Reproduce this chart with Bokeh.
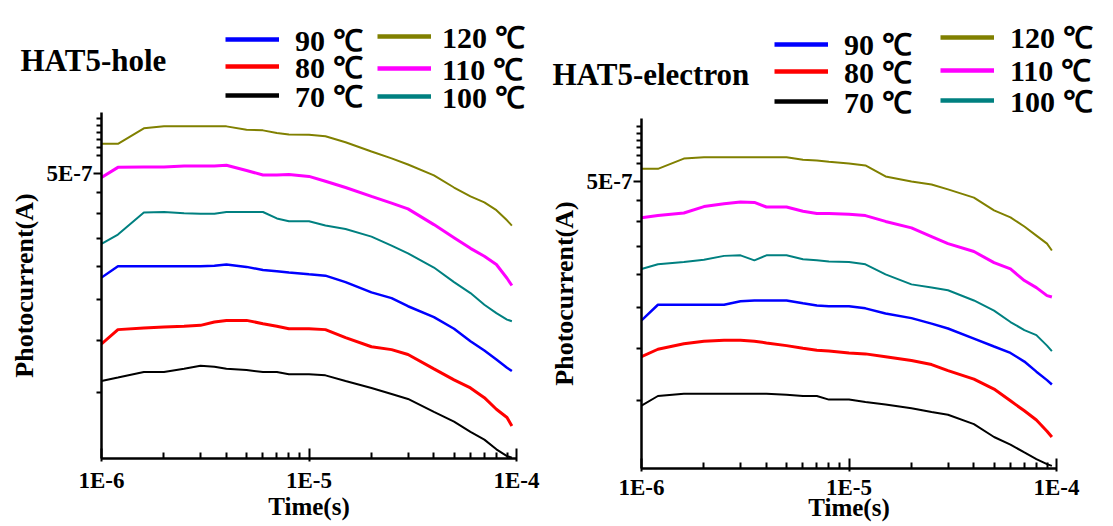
from bokeh.plotting import figure
from bokeh.layouts import row, column
from bokeh.models import (FixedTicker, CustomJSTickFormatter, Legend, LegendItem,
                          Label, Range1d)
from bokeh.embed import file_html
from bokeh.resources import INLINE

# ---------------- data ----------------
# time in microseconds (shared grid)
time_us = [1.0, 1.2, 1.6, 2.0, 2.5, 3.0, 3.5, 4.0, 5.0, 6.0, 7.0, 8.0, 10, 12, 15,
           20, 25, 30, 40, 50, 60, 70, 80, 90, 95]
temp_labels = ["90 ℃", "80 ℃", "70 ℃", "120 ℃", "110 ℃", "100 ℃"]

# photocurrent in units of 1E-7 A, HAT5-hole
hole_90 = [2.82, 3.00, 3.00, 3.00, 3.00, 3.00, 3.01, 3.03, 2.99, 2.94, 2.92, 2.90, 2.87,
           2.85, 2.75, 2.60, 2.52, 2.41, 2.27, 2.13, 1.99, 1.89, 1.80, 1.72, 1.69]
hole_80 = [1.96, 2.12, 2.14, 2.15, 2.16, 2.17, 2.21, 2.23, 2.23, 2.19, 2.16, 2.13, 2.13,
           2.12, 2.03, 1.93, 1.90, 1.85, 1.71, 1.61, 1.54, 1.46, 1.37, 1.31, 1.25]
hole_70 = [1.60, 1.63, 1.68, 1.68, 1.71, 1.74, 1.73, 1.71, 1.70, 1.68, 1.68, 1.66, 1.66,
           1.65, 1.60, 1.54, 1.49, 1.45, 1.35, 1.28, 1.21, 1.16, 1.10, 1.06, 1.05]
hole_120 = [5.87, 5.87, 6.39, 6.46, 6.46, 6.46, 6.46, 6.46, 6.34, 6.32, 6.23, 6.18, 6.17,
            6.12, 5.92, 5.63, 5.42, 5.24, 4.94, 4.62, 4.40, 4.26, 4.08, 3.86, 3.75]
hole_110 = [4.88, 5.16, 5.17, 5.17, 5.20, 5.20, 5.20, 5.22, 5.07, 4.95, 4.95, 4.96, 4.91,
            4.78, 4.62, 4.40, 4.24, 4.11, 3.77, 3.51, 3.31, 3.17, 3.03, 2.81, 2.70]
hole_100 = [3.39, 3.57, 4.03, 4.04, 4.01, 4.00, 4.00, 4.04, 4.04, 4.04, 3.90, 3.84, 3.84,
            3.75, 3.68, 3.53, 3.36, 3.22, 2.98, 2.75, 2.59, 2.43, 2.32, 2.24, 2.22]

# photocurrent in units of 1E-7 A, HAT5-electron
elec_90 = [2.33, 2.54, 2.54, 2.54, 2.54, 2.59, 2.60, 2.60, 2.60, 2.56, 2.53, 2.52, 2.52,
           2.49, 2.42, 2.36, 2.29, 2.23, 2.11, 2.02, 1.95, 1.86, 1.76, 1.68, 1.64]
elec_80 = [1.91, 1.99, 2.05, 2.08, 2.09, 2.09, 2.08, 2.06, 2.03, 2.00, 1.98, 1.97, 1.95,
           1.94, 1.91, 1.87, 1.83, 1.77, 1.69, 1.60, 1.50, 1.42, 1.35, 1.27, 1.23]
elec_70 = [1.46, 1.54, 1.56, 1.56, 1.56, 1.56, 1.56, 1.56, 1.55, 1.54, 1.54, 1.51, 1.51,
           1.49, 1.47, 1.44, 1.41, 1.39, 1.32, 1.23, 1.18, 1.13, 1.09, 1.06, 1.05]
elec_120 = [5.35, 5.35, 5.66, 5.70, 5.70, 5.70, 5.70, 5.70, 5.70, 5.62, 5.60, 5.56, 5.51,
            5.45, 5.13, 4.99, 4.91, 4.78, 4.57, 4.26, 4.10, 3.90, 3.71, 3.55, 3.42]
elec_110 = [4.09, 4.14, 4.20, 4.35, 4.42, 4.46, 4.45, 4.34, 4.34, 4.24, 4.19, 4.19, 4.17,
            4.14, 4.01, 3.87, 3.69, 3.55, 3.40, 3.20, 3.09, 2.90, 2.79, 2.67, 2.65]
elec_100 = [3.09, 3.17, 3.21, 3.25, 3.32, 3.33, 3.24, 3.33, 3.33, 3.26, 3.24, 3.22, 3.21,
            3.17, 3.00, 2.84, 2.79, 2.75, 2.60, 2.46, 2.31, 2.21, 2.15, 2.03, 1.97]

x_major = [1e-6, 1e-5, 1e-4]
x_minor = [2e-6, 3e-6, 4e-6, 5e-6, 6e-6, 7e-6, 8e-6, 9e-6,
           2e-5, 3e-5, 4e-5, 5e-5, 6e-5, 7e-5, 8e-5, 9e-5]
y_major = [5e-7]
y_minor = [1.5e-7, 2e-7, 2.5e-7, 3e-7, 3.5e-7, 4e-7, 4.5e-7,
           5.5e-7, 5.75e-7, 6e-7, 6.25e-7, 6.5e-7, 6.75e-7]

colors = ["#0000ff", "#ff0000", "#000000", "#808000", "#ff00ff", "#008080"]
widths = [2.5, 3.0, 2.0, 2.0, 3.0, 2.0]

SERIF = "Liberation Serif"
fmt = CustomJSTickFormatter(code="return tick.toExponential(0).replace('e','E').replace('+','');")


def make_header(title, series, width, height, title_pos, item_pos):
    """Title text and legend (key) for one panel; legend keys are tied to
    (hidden) copies of the same data series."""
    h = figure(width=width, height=height, x_range=Range1d(0, 1), y_range=Range1d(0, 1),
               output_backend="svg", toolbar_location=None,
               x_axis_location=None, y_axis_location=None, min_border=0)
    h.outline_line_color = None
    h.grid.visible = False
    h.border_fill_color = "white"
    xs = [t * 1e-6 for t in time_us]
    keys = [h.line(xs, [v * 1e-7 for v in vals], line_color=c, line_width=4.5,
                   visible=False)
            for vals, c in zip(series, colors)]
    h.add_layout(Label(x=title_pos[0], y=title_pos[1], x_units="screen", y_units="screen",
                       text=title, text_font=SERIF, text_font_style="bold",
                       text_font_size="31px", text_baseline="middle", text_color="black"))
    for k, (pos, std) in enumerate(item_pos):
        leg = Legend(items=[LegendItem(label=temp_labels[k], renderers=[keys[k]])],
                     location=pos, orientation="vertical",
                     glyph_width=54, glyph_height=20, label_height=20,
                     label_standoff=std, spacing=0, padding=0, margin=0,
                     border_line_color=None, background_fill_alpha=0,
                     inactive_fill_alpha=0,
                     label_text_font=SERIF, label_text_font_style="bold",
                     label_text_font_size="30px", label_text_color="black")
        h.add_layout(leg)
    return h


def make_panel(series, width, height, min_right, min_bottom, y_lo, y_hi,
               tick_std, lab_std):
    p = figure(width=width, height=height, x_axis_type="log", y_axis_type="log",
               x_range=Range1d(1e-6, 1e-4), y_range=Range1d(y_lo, y_hi),
               output_backend="svg", toolbar_location=None,
               min_border_left=101, min_border_right=min_right,
               min_border_top=0, min_border_bottom=min_bottom)
    p.outline_line_color = None
    p.grid.visible = False
    p.border_fill_color = "white"

    xs = [t * 1e-6 for t in time_us]
    for vals, c, w in zip(series, colors, widths):
        p.line(xs, [v * 1e-7 for v in vals], line_color=c, line_width=w)

    xa = p.xaxis[0]
    xa.ticker = FixedTicker(ticks=x_major, minor_ticks=x_minor)
    xa.formatter = fmt
    xa.axis_label = "Time(s)"
    ya = p.yaxis[0]
    ya.ticker = FixedTicker(ticks=y_major, minor_ticks=y_minor)
    ya.formatter = fmt
    ya.axis_label = "Photocurrent(A)"
    for ax in (xa, ya):
        ax.axis_line_width = 2.5
        ax.axis_line_color = "black"
        ax.major_tick_line_width = 2
        ax.minor_tick_line_width = 2
        ax.major_tick_line_color = "black"
        ax.minor_tick_line_color = "black"
        ax.major_label_text_font = SERIF
        ax.major_label_text_font_style = "bold"
        ax.major_label_text_font_size = "23px"
        ax.major_label_text_color = "black"
        ax.axis_label_text_font = SERIF
        ax.axis_label_text_font_style = "bold"
        ax.axis_label_text_color = "black"
    xa.axis_label_text_font_size = "25px"
    ya.axis_label_text_font_size = "26px"
    xa.major_tick_in = 10
    xa.major_tick_out = 3
    xa.minor_tick_in = 6
    xa.minor_tick_out = 0
    xa.major_label_standoff = tick_std
    xa.axis_label_standoff = lab_std
    ya.major_tick_in = 0
    ya.major_tick_out = 8
    ya.minor_tick_in = 0
    ya.minor_tick_out = 5
    ya.major_label_standoff = 1
    ya.axis_label_standoff = 5
    return p


hole = [hole_90, hole_80, hole_70, hole_120, hole_110, hole_100]
elec = [elec_90, elec_80, elec_70, elec_120, elec_110, elec_100]

# legend key positions: (left, bottom) in header pixels, label standoff
h1 = make_header("HAT5-hole", hole, 540, 112, (20, 52),
                 [((225, 52.5), 16), ((225, 25.5), 16), ((225, -3.5), 16),
                  ((377, 55.5), 11), ((377, 23.5), 11), ((377, -4.5), 11)])
h2 = make_header("HAT5-electron", elec, 573, 118, (12, 44),
                 [((234, 54), 16), ((234, 26.5), 16), ((234, -3.5), 16),
                  ((400, 61), 16), ((400, 28), 16), ((400, -2.5), 16)])

p1 = make_panel(hole, 540, 414, 24, 68, 1.046e-7, 6.97e-7, 6, -3)
p2 = make_panel(elec, 573, 408, 57, 58, 1.035e-7, 7.05e-7, 3, -9)

layout = row(column(row(h1), p1, spacing=0), column(row(h2), p2, spacing=0), spacing=0)
open("out.html", "w").write(file_html(layout, INLINE))
